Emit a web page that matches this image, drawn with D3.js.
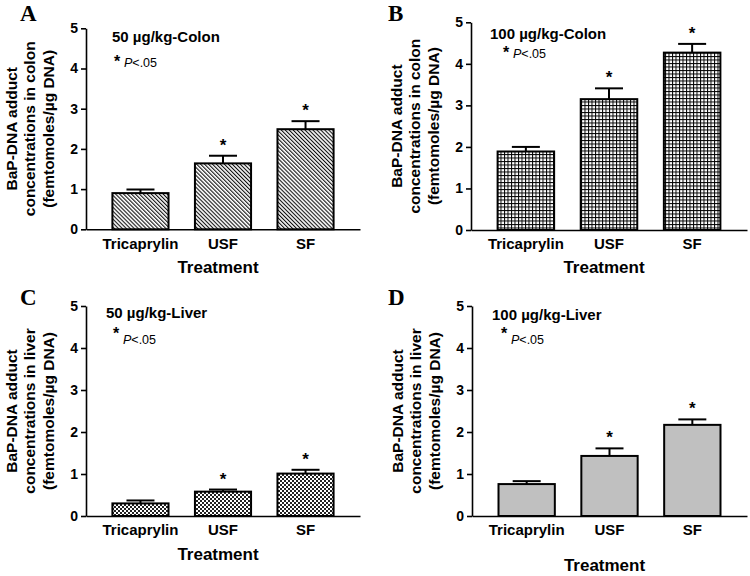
<!DOCTYPE html>
<html>
<head>
<meta charset="utf-8">
<script src="https://cdn.jsdelivr.net/npm/d3@7/dist/d3.min.js"></script>
<style>
  body { margin: 0; background: #fff; }
  svg { display: block; font-family: "Liberation Sans", Arial, sans-serif; }
  .axis path, .axis line { stroke: #000; stroke-width: 1.6px; }
  .axis text { font-size: 14px; font-weight: bold; fill: #000; }
</style>
</head>
<body>
<svg id="fig" width="750" height="576"></svg>
<script>
// treatments and readings (fmol / ug DNA), error = upper SEM
const categories = ["Tricaprylin", "USF", "SF"];
const colon50 = [0.90, 1.64, 2.49];
const colon50Err = [0.09, 0.19, 0.20];
const colon100 = [1.89, 3.15, 4.27];
const colon100Err = [0.11, 0.26, 0.21];
const liver50 = [0.30, 0.58, 1.01];
const liver50Err = [0.07, 0.05, 0.09];
const liver100 = [0.76, 1.43, 2.17];
const liver100Err = [0.07, 0.18, 0.13];
const significant = [false, true, true];
const yTicks = [0, 1, 2, 3, 4, 5];

var svg = d3.select("#fig");
var defs = svg.append("defs");

// hatching "\\\"
defs.append("pattern").attr("id", "hatch")
    .attr("patternUnits", "userSpaceOnUse")
    .attr("width", 2.8).attr("height", 2.8)
    .attr("patternTransform", "rotate(-45)")
  .call(p => {
    p.append("rect").attr("width", 2.8).attr("height", 2.8).attr("fill", "#fff");
    p.append("rect").attr("width", 1.1).attr("height", 2.8).attr("fill", "#111");
  });

// square grid
defs.append("pattern").attr("id", "grid")
    .attr("patternUnits", "userSpaceOnUse")
    .attr("width", 3.5).attr("height", 3.5)
  .call(p => {
    p.append("rect").attr("width", 3.5).attr("height", 3.5).attr("fill", "#000");
    p.append("rect").attr("x", 1).attr("y", 1).attr("width", 2.5).attr("height", 2.5).attr("fill", "#fff");
  });

// fine checker
defs.append("pattern").attr("id", "checker")
    .attr("patternUnits", "userSpaceOnUse")
    .attr("width", 4).attr("height", 4)
  .call(p => {
    p.append("rect").attr("width", 4).attr("height", 4).attr("fill", "#fff");
    p.append("rect").attr("width", 2).attr("height", 2).attr("fill", "#222");
    p.append("rect").attr("x", 2).attr("y", 2).attr("width", 2).attr("height", 2).attr("fill", "#222");
  });

var panels = [
  {letter: "A", title: "50 \u00b5g/kg-Colon", organ: "colon", values: colon50, errs: colon50Err, fill: "url(#hatch)",
   x0: 86, x1: 360, y0: 229.3, y5: 28.3, titleX: 112, titleY: 42, starX: 118, starY: 67, pY: 67,
   catY: 238, treatY: 273},
  {letter: "B", title: "100 \u00b5g/kg-Colon", organ: "colon", values: colon100, errs: colon100Err, fill: "url(#grid)",
   x0: 471, x1: 747, y0: 230, y5: 22.3, titleX: 490, titleY: 38.5, starX: 507, starY: 58, pY: 58,
   catY: 238, treatY: 273},
  {letter: "C", title: "50 \u00b5g/kg-Liver", organ: "liver", values: liver50, errs: liver50Err, fill: "url(#checker)",
   x0: 86, x1: 360, y0: 516, y5: 306, titleX: 106, titleY: 318, starX: 117, starY: 339, pY: 344,
   catY: 524, treatY: 560},
  {letter: "D", title: "100 \u00b5g/kg-Liver", organ: "liver", values: liver100, errs: liver100Err, fill: "#c0c0c0",
   x0: 472, x1: 747, y0: 516, y5: 306, titleX: 492, titleY: 319.5, starX: 505, starY: 339, pY: 344,
   catY: 524, treatY: 571}
];

panels.forEach(function(p, pi) {
  var g = svg.append("g");
  var x = d3.scaleBand().domain(categories).range([p.x0, p.x1])
      .paddingInner(0.32).paddingOuter(0.32);
  var y = d3.scaleLinear().domain([0, 5]).range([p.y0, p.y5]);

  // bars
  g.selectAll("rect.bar").data(categories).join("rect")
      .attr("x", d => x(d))
      .attr("y", (d, i) => y(p.values[i]))
      .attr("width", x.bandwidth())
      .attr("height", (d, i) => y(0) - y(p.values[i]))
      .attr("fill", p.fill)
      .attr("stroke", "#000").attr("stroke-width", 2);

  // error bars (upper only)
  var eb = g.selectAll("g.err").data(categories).join("g")
      .attr("transform", d => "translate(" + (x(d) + x.bandwidth() / 2) + ",0)");
  eb.append("line")
      .attr("y1", (d, i) => y(p.values[i]))
      .attr("y2", (d, i) => y(p.values[i] + p.errs[i]))
      .attr("stroke", "#000").attr("stroke-width", 2);
  eb.append("line")
      .attr("x1", -14).attr("x2", 14)
      .attr("y1", (d, i) => y(p.values[i] + p.errs[i]))
      .attr("y2", (d, i) => y(p.values[i] + p.errs[i]))
      .attr("stroke", "#000").attr("stroke-width", 2);
  eb.filter((d, i) => significant[i]).append("text")
      .attr("y", d => {
        var i = categories.indexOf(d);
        return y(p.values[i] + p.errs[i]) - 5;
      })
      .attr("text-anchor", "middle")
      .style("font-size", "17px").style("font-weight", "bold")
      .text("*");

  // axes
  g.append("g").attr("class", "axis")
      .attr("transform", "translate(" + p.x0 + ",0)")
      .call(d3.axisLeft(y).tickValues(yTicks).tickFormat(d3.format("d"))
        .tickSize(5).tickSizeOuter(0).tickPadding(3));
  var xa = g.append("g").attr("class", "axis")
      .attr("transform", "translate(0," + p.y0 + ")")
      .call(d3.axisBottom(x).tickSize(0).tickSizeOuter(0).tickPadding(p.catY - p.y0));
  xa.selectAll("text").style("font-size", "15px");

  // axis titles
  g.append("text")
      .attr("x", (p.x0 + p.x1) / 2 - 5).attr("y", p.treatY)
      .attr("text-anchor", "middle")
      .style("font-size", "17px").style("font-weight", "bold")
      .text("Treatment");

  var yLines = ["BaP-DNA adduct", "concentrations in " + p.organ, "(femtomoles/\u00b5g DNA)"];
  var cy = (p.y0 + p.y5) / 2;
  g.selectAll("text.ylab").data(yLines).join("text")
      .attr("transform", (d, i) => "translate(" + (p.x0 - 75 + i * 18.5) + "," + cy + ") rotate(-90)")
      .attr("text-anchor", "middle")
      .attr("dominant-baseline", "central")
      .style("font-size", "15.5px").style("font-weight", "bold")
      .text(d => d);

  // panel letter
  g.append("text")
      .attr("x", p.x0 < 200 ? 20 : 388)
      .attr("y", pi < 2 ? 21 : 305)
      .style("font-family", "'Liberation Serif', 'Times New Roman', serif")
      .style("font-size", "23px").style("font-weight", "bold")
      .text(p.letter);

  // inset title and significance note
  g.append("text")
      .attr("x", p.titleX).attr("y", p.titleY)
      .style("font-size", "15px").style("font-weight", "bold")
      .text(p.title);
  g.append("text")
      .attr("x", p.starX - 4).attr("y", p.starY)
      .style("font-size", "16px").style("font-weight", "bold")
      .text("*");
  var note = g.append("text")
      .attr("x", p.starX + 6).attr("y", p.pY)
      .style("font-size", "12.5px");
  note.append("tspan").style("font-style", "italic").text("P");
  note.append("tspan").text("<.05");
});
</script>
</body>
</html>
